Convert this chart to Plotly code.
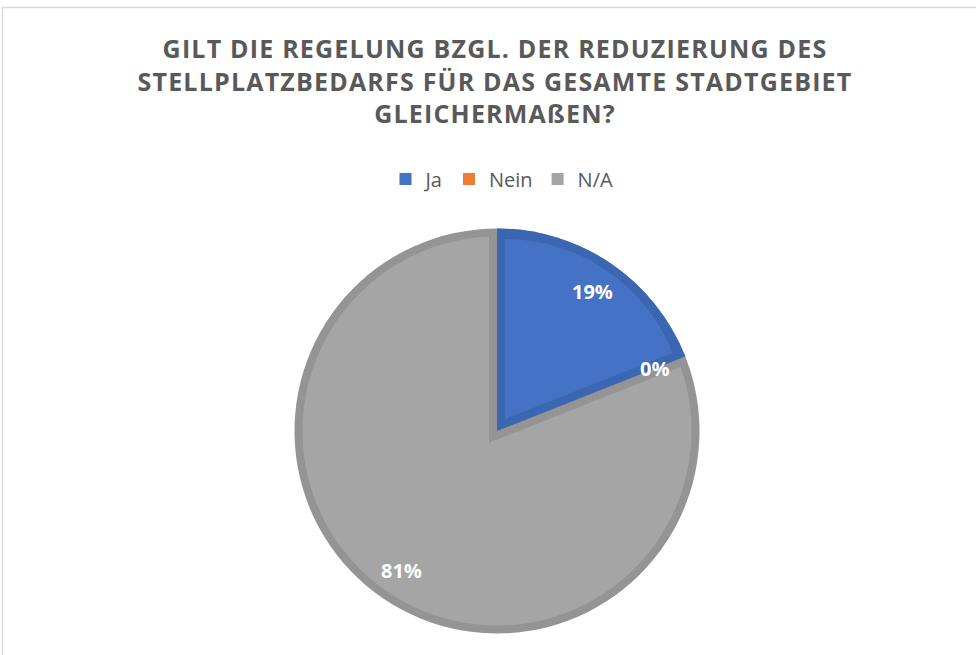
import math
import plotly.graph_objects as go

# ---- data ----
labels = ["Ja", "Nein", "N/A"]
values = [19, 0, 81]
pct_text = ["19%", "0%", "81%"]
title_lines = [
    "GILT DIE REGELUNG BZGL. DER REDUZIERUNG DES",
    "STELLPLATZBEDARFS FÜR DAS GESAMTE STADTGEBIET",
    "GLEICHERMAßEN?",
]

# ---- style ----
light = ["#4472C4", "#ED7D31", "#A5A5A5"]
dark = ["#3B66B2", "#D56E2A", "#949494"]
CLEAR = "rgba(0,0,0,0)"
W, H = 976, 655
CX, CY, R = 497, 431, 202.5
BAND = 8
LABEL_R = 0.835


def dom(cx, cy, r):
    return dict(x=[(cx - r) / W, (cx + r) / W], y=[1 - (cy + r) / H, 1 - (cy - r) / H])


total = sum(values)
half = math.pi * values[0] / total          # half angle of first slice
off = BAND / math.sin(half)                  # apex offset for an 8px inset
ux, uy = math.sin(half), -math.cos(half)     # bisector of first slice (screen coords)

common = dict(labels=labels, values=values, sort=False, direction="clockwise",
              rotation=0, textinfo="none", hoverinfo="skip")

fig = go.Figure()
# 1: dark base (borders)
fig.add_trace(go.Pie(**common, domain=dom(CX, CY, R), showlegend=False,
                     marker=dict(colors=dark, line=dict(width=0))))
# 2: light interior (carries legend)
fig.add_trace(go.Pie(**common, domain=dom(CX, CY, R - BAND), showlegend=True,
                     marker=dict(colors=light, line=dict(width=0))))
# 3: dark band of the large slice along the radial edges
fig.add_trace(go.Pie(**common, domain=dom(CX - off * ux, CY - off * uy, R + 4), showlegend=False,
                     marker=dict(colors=[dark[2], CLEAR, CLEAR], line=dict(width=0))))
# 4: first slice dark base again
fig.add_trace(go.Pie(**common, domain=dom(CX, CY, R), showlegend=False,
                     marker=dict(colors=[dark[0], CLEAR, CLEAR], line=dict(width=0))))
# 5: first slice light interior (inset via pull)
pull = off / (R - BAND - off)
fig.add_trace(go.Pie(**common, domain=dom(CX, CY, R - BAND), showlegend=False,
                     pull=[pull, 0, 0],
                     marker=dict(colors=[light[0], CLEAR, CLEAR], line=dict(width=0))))

# data labels at slice bisectors
cum = 0
for v, t in zip(values, pct_text):
    mid = 2 * math.pi * (cum + v / 2) / total
    cum += v
    d = LABEL_R * R
    fig.add_annotation(x=(CX + d * math.sin(mid)) / W, y=1 - (CY - d * math.cos(mid)) / H,
                       xref="paper", yref="paper", text=t, showarrow=False,
                       xanchor="center", yanchor="middle",
                       font=dict(family="Open Sans", size=20, color="white", weight="bold"))

sp = "<span style='letter-spacing:1.2px'>%s</span>"
fig.update_layout(
    width=W, height=H,
    margin=dict(l=0, r=0, t=0, b=0),
    paper_bgcolor="white", plot_bgcolor="white",
    title=dict(text="<br>".join(sp % s for s in title_lines),
               x=495 / W, xanchor="center", y=1 - 58 / H, yanchor="top",
               font=dict(family="Open Sans", size=25, color="#595959", weight="bold")),
    legend=dict(orientation="h", x=502 / W, xanchor="center", y=1 - 179 / H, yanchor="middle",
                font=dict(family="Open Sans", size=20, color="#595959"),
                itemwidth=30, tracegroupgap=0),
    shapes=[dict(type="rect", xref="paper", yref="paper", x0=2.5 / W, x1=1.02,
                 y0=-0.02, y1=1 - 7.5 / H, line=dict(color="#D9D9D9", width=1.5), layer="below")],
)

fig.write_html("out.html", config={"displayModeBar": False},
               post_script="document.body.style.margin='0';")
